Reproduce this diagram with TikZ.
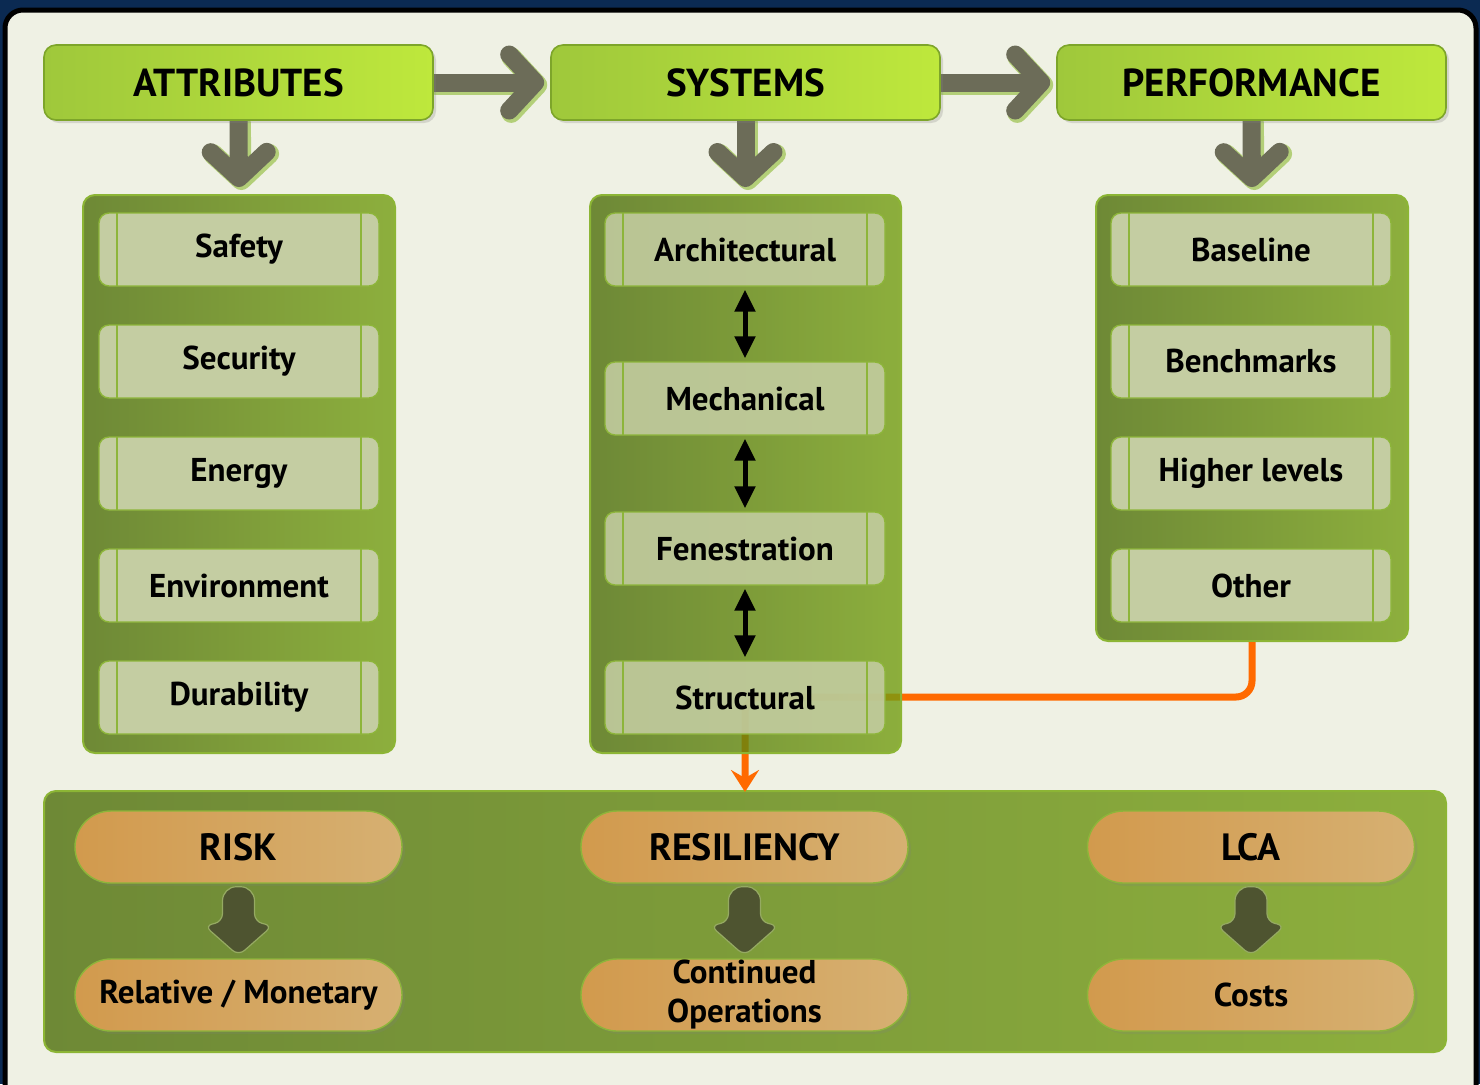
\documentclass[tikz,border=0pt]{standalone}
\usepackage{fontspec}
\setmainfont{PT Sans}
\usetikzlibrary{arrows.meta,shadows,calc}
\definecolor{navy}{HTML}{0B2A52}
\definecolor{cream}{HTML}{EFF1E4}
\definecolor{hdrL}{HTML}{9FC83B}
\definecolor{hdrR}{HTML}{BEE83C}
\definecolor{hdrB}{HTML}{7DA52A}
\definecolor{panL}{HTML}{6E8936}
\definecolor{panR}{HTML}{8DAF3D}
\definecolor{sysL}{HTML}{4E6F0B}
\definecolor{sysR}{HTML}{749E13}
\definecolor{panB}{HTML}{8CB535}
\definecolor{itemF}{HTML}{C4CDA2}
\definecolor{itemB}{HTML}{8DB53A}
\definecolor{pillL}{HTML}{D29A4D}
\definecolor{pillR}{HTML}{D6B072}
\definecolor{garrow}{HTML}{6C6C58}
\definecolor{glow}{HTML}{B3CF78}
\definecolor{darrow}{HTML}{4E5430}
\definecolor{orangeL}{HTML}{FF6A00}
\pgfdeclarelayer{bg}
\pgfdeclarelayer{arrowlayer}
\pgfsetlayers{bg,arrowlayer,main}
\tikzset{
  hdr/.style={draw=hdrB, line width=0.8pt, rounded corners=6pt, left color=hdrL, right color=hdrR,
    minimum width=194.5pt, minimum height=37.5pt, inner sep=0pt,
    font=\fontsize{19.5}{21}\selectfont\bfseries,
    drop shadow={opacity=0.25, shadow xshift=1.5pt, shadow yshift=-1.5pt}},
  panel/.style={draw=panB, line width=1pt, rounded corners=6pt, left color=panL, right color=panR, inner sep=0pt},
  item/.style={draw=itemB, line width=0.7pt, fill=itemF, rounded corners=5pt,
    minimum width=140pt, minimum height=36.5pt, inner sep=0pt,
    font=\fontsize{16.5}{19}\selectfont\bfseries,
    path picture={\draw[itemB, line width=0.7pt]
      ([xshift=9pt]path picture bounding box.north west) -- ([xshift=9pt]path picture bounding box.south west)
      ([xshift=-9pt]path picture bounding box.north east) -- ([xshift=-9pt]path picture bounding box.south east);}},
  pill/.style={draw=itemB, line width=0.7pt, rounded corners=18pt, left color=pillL, right color=pillR,
    minimum width=163.5pt, minimum height=36pt, inner sep=0pt, align=center,
    font=\fontsize{16.5}{19.5}\selectfont\bfseries,
    drop shadow={opacity=0.2, shadow xshift=1.5pt, shadow yshift=-1.5pt}},
  pilltop/.style={pill, font=\fontsize{19}{21}\selectfont\bfseries},
  grayarrow/.style={draw=garrow, line width=9pt, line cap=round, line join=round,
    -{Straight Barb[round, length=13pt, width=28pt]}},
  glowarrow/.style={draw=glow, line width=10pt, line cap=round, line join=round,
    -{Straight Barb[round, length=13pt, width=28pt]}},
  dblarrow/.style={draw=black, line width=2.5pt, {Triangle[length=11pt,width=10pt]}-{Triangle[length=11pt,width=10pt]}, shorten <=1.5pt, shorten >=1.5pt},
  orangeline/.style={draw=orangeL, line width=3.5pt, -{Stealth[length=11pt,width=14pt,inset=4pt]}},
  darkarrow/.style={fill=darrow, draw=glow!70!darrow, line width=0.6pt}
}
\begin{document}
\begin{tikzpicture}[x=0.5pt,y=-0.5pt]
\useasboundingbox (0,0) rectangle (1480,1084);
\clip (0,0) rectangle (1480,1084);
\begin{pgfonlayer}{bg}
\fill[navy] (0,0) rectangle (1480,1084);
\draw[line width=2.5pt, fill=cream, rounded corners=9pt] (5,10) rectangle (1476,1140);
\end{pgfonlayer}

% panels
\node[panel, minimum width=156pt, minimum height=279pt] (attrP) at (239,474) {};
\node[panel, minimum width=156pt, minimum height=223pt] (perfP) at (1252,418) {};
\node[panel, minimum width=701pt, minimum height=130.5pt] (botP) at (745,921.5) {};

% attribute items
\node[item] (safety) at (239,249.5) {Safety};
\node[item] (security) at (239,361.5) {Security};
\node[item] (energy) at (239,473.5) {Energy};
\node[item] (environment) at (239,585.5) {Environment};
\node[item] (durability) at (239,697.5) {Durability};

% performance items
\node[item] (baseline) at (1251,249.5) {Baseline};
\node[item] (benchmarks) at (1251,361.5) {Benchmarks};
\node[item] (higher) at (1251,473.5) {Higher levels};
\node[item] (other) at (1251,585.5) {Other};

% bottom pills
\node[pilltop] (risk) at (238.5,847) {RISK};
\node[pilltop] (resil) at (744.5,847) {RESILIENCY};
\node[pilltop] (lca) at (1251,847) {LCA};
\node[pill] (relmon) at (238.5,995) {Relative / Monetary};
\node[pill] (contop) at (744.5,995) {Continued\\Operations};
\node[pill] (costs) at (1251,995) {Costs};

% dark arrows in bottom panel
\foreach \a in {risk,resil,lca}{
  \filldraw[darkarrow] [rounded corners=7pt] ($(\a.south)+(-16,38)$) -- ($(\a.south)+(-16,3)$) -- ($(\a.south)+(16,3)$) [rounded corners=4pt] -- ($(\a.south)+(16,38)$) -- ($(\a.south)+(34,42)$) -- ($(\a.south)+(0,72)$) -- ($(\a.south)+(-34,42)$) -- cycle;
}

% orange connector (beneath the systems column)
\coordinate (bend) at (745,697);
\draw[orangeline] (perfP.south) [rounded corners=8pt] |- (bend) [sharp corners] -- ([yshift=-1pt]botP.north);

% systems column, partly transparent
\node[panel, fill opacity=0.8, left color=sysL, right color=sysR, minimum width=155.5pt, minimum height=279pt] (sysP) at (745.5,474) {};
\node[item, fill opacity=0.88, text opacity=1] (arch) at (745,249.5) {Architectural};
\node[item, fill opacity=0.88, text opacity=1] (mech) at (745,398.5) {Mechanical};
\node[item, fill opacity=0.88, text opacity=1] (fen) at (745,548.5) {Fenestration};
\node[item, fill opacity=0.88, text opacity=1] (struct) at (745,697.5) {Structural};
\draw[dblarrow] (arch.south) -- (mech.north);
\draw[dblarrow] (mech.south) -- (fen.north);
\draw[dblarrow] (fen.south) -- (struct.north);

% headers
\node[hdr] (attr) at (238.5,82.5) {ATTRIBUTES};
\node[hdr] (sys) at (745.5,82.5) {SYSTEMS};
\node[hdr] (perf) at (1251.5,82.5) {PERFORMANCE};

% gray arrows, on a layer below the headers
\begin{pgfonlayer}{arrowlayer}
\foreach \s/\t in {attr/sys,sys/perf}{
  \draw[glowarrow, shorten >=2.5pt] ([xshift=1pt,yshift=-1.2pt]\s.east) -- ([xshift=1pt,yshift=-1.2pt]\t.west);
  \draw[grayarrow, shorten >=3pt] ([xshift=-2pt]\s.east) -- (\t.west);
}
\foreach \s/\t in {attr/attrP,sys/sysP,perf/perfP}{
  \draw[glowarrow, shorten >=3pt] ([xshift=1.2pt,yshift=-1pt]\s.south) -- ([xshift=1.2pt,yshift=-1pt]\t.north);
  \draw[grayarrow, shorten >=3.5pt] ([yshift=1pt]\s.south) -- (\t.north);
}
\end{pgfonlayer}
\end{tikzpicture}
\end{document}
